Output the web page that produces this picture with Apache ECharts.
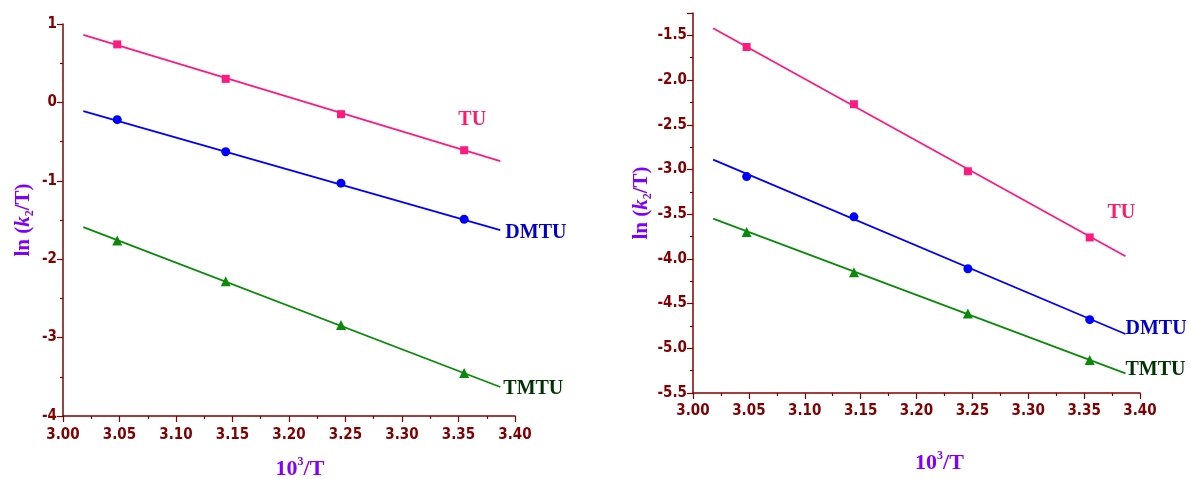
<!DOCTYPE html>
<html>
<head>
<meta charset="utf-8">
<script src="https://cdn.jsdelivr.net/npm/echarts@6/dist/echarts.min.js"></script>
<style>
html,body{margin:0;padding:0;background:#fff;}
#c{width:1191px;height:479px;}
</style>
</head>
<body>
<div id="c"></div>
<script>
// ---- data ----
const xPts = [3.048, 3.144, 3.246, 3.355];
const xFit = [3.018, 3.387];
const seriesNames = ['TU', 'DMTU', 'TMTU'];
// left panel
const tuL = [0.74, 0.30, -0.15, -0.61];
const dmtuL = [-0.22, -0.63, -1.03, -1.49];
const tmtuL = [-1.76, -2.28, -2.84, -3.45];
const tuFitL = [0.86, -0.75];
const dmtuFitL = [-0.11, -1.63];
const tmtuFitL = [-1.59, -3.63];
// right panel
const tuR = [-1.63, -2.27, -3.02, -3.76];
const dmtuR = [-3.08, -3.53, -4.11, -4.68];
const tmtuR = [-3.70, -4.15, -4.61, -5.13];
const tuFitR = [-1.42, -3.97];
const dmtuFitR = [-2.89, -4.84];
const tmtuFitR = [-3.55, -5.28];
// axis ranges / ticks
const xMin = 3.00, xMax = 3.40, xStep = 0.05;
const yMinL = -4, yMaxL = 1, yStepL = 1;
const yMinR = -5.5, yMaxR = -1.25, yStepR = 0.5;

const AX = '#800000';
const PURPLE = '#7f00ff';
const lineColors = ['#ff1a80', '#0000ff', '#0a8a0a'];
const labelColors = ['#ff1a6e', '#0000cc', '#003300'];
const symbols = ['rect', 'circle', 'triangle'];
const symSizes = [8, 9, 10];
const labelFont = '"DejaVu Sans Condensed", "Liberation Sans Narrow", "Liberation Sans", Arial, sans-serif';
const serif = '"Liberation Serif", "Times New Roman", serif';

function pair(xs, ys) { return xs.map((x, i) => [x, ys[i]]); }

function xAxis(gi, padLeft, gap, margin) {
  return {
    type: 'value', gridIndex: gi, min: xMin, max: xMax, interval: xStep,
    axisLine: {show: true, onZero: false, lineStyle: {color: AX, width: 1.5}},
    axisTick: {show: true, length: 6, lineStyle: {color: AX, width: 1.2}},
    minorTick: {show: true, splitNumber: 2, length: 3, lineStyle: {color: AX, width: 1.2}},
    splitLine: {show: false},
    axisLabel: {color: AX, fontFamily: labelFont, fontWeight: 'bold', fontSize: 15, margin: margin,
      formatter: v => v.toFixed(2)},
    name: '{a|10}{s|3}{a|/T}', nameLocation: 'middle', nameGap: gap,
    nameTextStyle: {padding: [0, 0, 0, padLeft],
      rich: {
        a: {fontFamily: serif, fontWeight: 'bold', fontSize: 22, color: PURPLE, lineHeight: 24, verticalAlign: 'bottom'},
        s: {fontFamily: serif, fontWeight: 'bold', fontSize: 12, color: PURPLE, lineHeight: 24, verticalAlign: 'top', padding: [0,0,8,0]}
      }}
  };
}
function yAxis(gi, mn, mx, step, gap, fmt) {
  return {
    type: 'value', gridIndex: gi, min: mn, max: mx, interval: step,
    axisLine: {show: true, onZero: false, lineStyle: {color: AX, width: 1.5}},
    axisTick: {show: true, length: 6, lineStyle: {color: AX, width: 1.2}},
    minorTick: {show: true, splitNumber: 2, length: 3, lineStyle: {color: AX, width: 1.2}},
    splitLine: {show: false},
    axisLabel: {color: AX, fontFamily: labelFont, fontWeight: 'bold', fontSize: 15, margin: 6,
      showMaxLabel: gi === 0, formatter: fmt},
    name: '{a|ln (}{k|k}{s|2}{a|/T)}', nameLocation: 'middle', nameGap: gap, nameRotate: 90,
    nameTextStyle: {
      rich: {
        a: {fontFamily: serif, fontWeight: 'bold', fontSize: 21, color: PURPLE, lineHeight: 24},
        k: {fontFamily: serif, fontWeight: 'bold', fontStyle: 'italic', fontSize: 21, color: PURPLE, lineHeight: 24},
        s: {fontFamily: serif, fontWeight: 'bold', fontSize: 12, color: PURPLE, lineHeight: 24, verticalAlign: 'bottom', padding: [8,0,0,0]}
      }}
  };
}

const pointsL = [tuL, dmtuL, tmtuL];
const fitsL = [tuFitL, dmtuFitL, tmtuFitL];
const pointsR = [tuR, dmtuR, tmtuR];
const fitsR = [tuFitR, dmtuFitR, tmtuFitR];
const offsL = [[-47, -41], [0, 3], [-2, 2]];
const offsR = [[-23, -43], [-5, -5], [-5, -4]];

const series = [];
[[pointsL, fitsL, offsL, 0], [pointsR, fitsR, offsR, 1]].forEach(([pts, fits, offs, gi]) => {
  seriesNames.forEach((nm, i) => {
    series.push({
      type: 'line', name: nm + '_fit' + gi, xAxisIndex: gi, yAxisIndex: gi,
      data: pair(xFit, fits[i]), showSymbol: false, symbol: 'none', silent: true,
      lineStyle: {color: lineColors[i], width: 1.8},
      endLabel: {show: true, formatter: nm, offset: offs[i], distance: 5,
        color: labelColors[i], fontFamily: serif, fontWeight: 'bold', fontSize: 20}
    });
    series.push({
      type: 'scatter', name: nm + '_pts' + gi, xAxisIndex: gi, yAxisIndex: gi,
      data: pair(xPts, pts[i]), symbol: symbols[i], symbolSize: symSizes[i],
      itemStyle: {color: lineColors[i], opacity: 1}
    });
  });
});

const chart = echarts.init(document.getElementById('c'), null, {renderer: 'canvas'});
chart.setOption({
  animation: false,
  backgroundColor: '#fff',
  grid: [
    {left: 63, top: 24, width: 452, height: 392, outerBoundsMode: 'none', containLabel: false},
    {left: 693, top: 13, width: 447, height: 380, outerBoundsMode: 'none', containLabel: false}
  ],
  xAxis: [xAxis(0, 22, 40, 12), xAxis(1, 46, 57, 11)],
  yAxis: [
    yAxis(0, yMinL, yMaxL, yStepL, 27, v => String(v)),
    yAxis(1, yMinR, yMaxR, yStepR, 39, v => v.toFixed(1))
  ],
  series: series
});
</script>
</body>
</html>
